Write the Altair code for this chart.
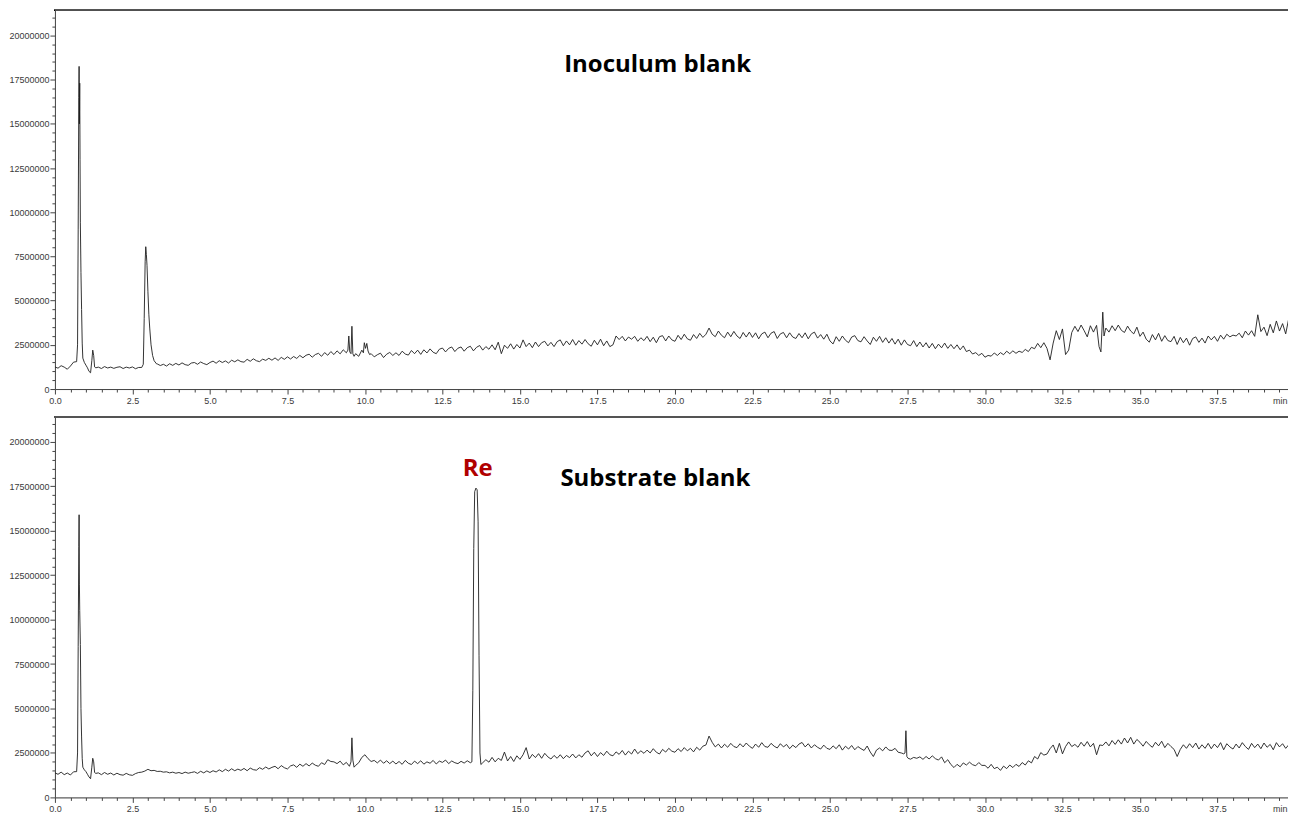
import altair as alt
import pandas as pd

# ---------------- data (signal in millions of counts, time in minutes) ----------------
# Inoculum blank: baseline sampled every 0.1 min, 0.0 .. 40.0
inoc_base_rows = [
    [1.25, 1.18, 1.32, 1.24, 1.12, 1.30, 1.52, 1.58, 1.50, 1.50],
    [1.30, 1.00, 1.20, 1.25, 1.24, 1.16, 1.27, 1.19, 1.24, 1.17],
    [1.23, 1.26, 1.16, 1.24, 1.19, 1.25, 1.15, 1.22, 1.20, 1.40],
    [5.00, 2.50, 1.60, 1.42, 1.33, 1.40, 1.30, 1.43, 1.34, 1.45],
    [1.36, 1.48, 1.38, 1.34, 1.47, 1.50, 1.40, 1.53, 1.44, 1.38],
    [1.50, 1.58, 1.46, 1.60, 1.50, 1.59, 1.47, 1.63, 1.54, 1.65],
    [1.55, 1.52, 1.68, 1.57, 1.71, 1.60, 1.55, 1.69, 1.62, 1.74],
    [1.63, 1.76, 1.62, 1.79, 1.68, 1.82, 1.70, 1.84, 1.73, 1.90],
    [1.77, 1.91, 1.97, 1.80, 1.95, 2.02, 1.85, 2.06, 1.91, 2.12],
    [1.95, 2.16, 1.99, 2.22, 2.05, 2.50, 3.00, 2.00, 1.85, 2.25],
    [2.60, 2.55, 2.00, 1.82, 1.94, 2.03, 1.78, 1.97, 2.07, 1.90],
    [2.05, 1.90, 2.14, 1.98, 1.92, 2.18, 2.00, 2.20, 1.96, 2.22],
    [2.04, 2.27, 2.08, 2.00, 2.25, 2.32, 2.10, 2.30, 2.38, 2.12],
    [2.31, 2.38, 2.14, 2.34, 2.42, 2.16, 2.36, 2.46, 2.20, 2.40],
    [2.25, 2.50, 2.22, 2.65, 2.00, 2.48, 2.30, 2.56, 2.26, 2.52],
    [2.32, 2.78, 2.40, 2.60, 2.34, 2.66, 2.40, 2.62, 2.70, 2.44],
    [2.64, 2.40, 2.68, 2.78, 2.45, 2.72, 2.50, 2.80, 2.48, 2.74],
    [2.54, 2.80, 2.56, 2.42, 2.76, 2.50, 2.82, 2.45, 2.72, 2.40],
    [2.50, 3.00, 2.80, 2.98, 2.72, 2.94, 2.82, 2.98, 2.70, 2.90],
    [2.74, 2.98, 2.68, 2.93, 2.62, 2.96, 3.02, 2.72, 3.00, 2.78],
    [2.70, 3.04, 2.80, 3.10, 2.84, 2.76, 3.08, 2.86, 3.15, 2.92],
    [3.10, 3.45, 3.10, 2.96, 3.28, 3.04, 2.90, 3.22, 2.96, 3.26],
    [3.00, 2.86, 3.20, 2.94, 3.22, 2.92, 3.18, 2.84, 3.12, 3.22],
    [2.90, 3.16, 3.25, 2.86, 3.12, 3.20, 2.90, 3.18, 2.94, 2.86],
    [3.14, 2.90, 3.18, 2.84, 3.12, 3.22, 2.88, 3.08, 2.82, 3.10],
    [2.72, 2.55, 2.96, 2.70, 3.00, 2.76, 2.62, 2.94, 3.02, 2.74],
    [2.67, 2.96, 2.72, 2.52, 2.93, 2.70, 2.98, 2.64, 2.90, 2.60],
    [2.86, 2.54, 2.82, 2.48, 2.78, 2.52, 2.45, 2.74, 2.40, 2.66],
    [2.38, 2.62, 2.32, 2.58, 2.28, 2.54, 2.33, 2.60, 2.30, 2.52],
    [2.28, 2.50, 2.22, 2.44, 2.12, 2.20, 1.98, 2.06, 1.90, 2.02],
    [1.80, 1.90, 1.86, 2.04, 1.90, 2.06, 1.94, 2.14, 2.00, 2.16],
    [2.02, 2.14, 2.07, 2.24, 2.12, 2.36, 2.28, 2.58, 2.34, 2.62],
    [2.30, 1.65, 2.60, 3.30, 2.80, 3.40, 1.95, 2.20, 3.20, 3.55],
    [3.25, 3.62, 3.30, 2.95, 3.58, 3.22, 3.60, 2.40, 4.35, 3.45],
    [3.22, 3.58, 3.30, 3.62, 3.32, 3.20, 3.56, 3.28, 3.12, 3.50],
    [2.98, 3.22, 2.82, 2.65, 3.08, 2.78, 3.15, 2.70, 3.02, 2.74],
    [2.68, 2.98, 2.52, 2.92, 2.62, 2.88, 2.48, 2.86, 2.95, 2.64],
    [2.88, 2.60, 3.00, 2.78, 2.98, 2.70, 3.05, 2.82, 3.10, 2.95],
    [3.05, 3.00, 3.16, 2.90, 3.28, 3.05, 3.30, 2.98, 4.20, 3.25],
    [3.50, 3.02, 3.66, 3.18, 3.85, 3.28, 3.70, 3.12, 4.00, 3.40],
    [3.45],
]
# Inoculum blank: finely sampled peaks (time, signal)
inoc_peaks = [
    [(0.70, 1.55), (0.73, 2.50), (0.75, 9.00), (0.77, 16.50), (0.78, 18.25), (0.79, 15.00),
     (0.80, 17.30), (0.81, 13.00), (0.82, 9.40), (0.84, 6.60), (0.86, 4.50), (0.88, 2.60),
     (0.90, 1.75), (0.95, 1.50), (1.00, 1.35)],
    [(1.05, 1.20), (1.10, 1.00), (1.15, 0.92), (1.19, 1.60), (1.22, 2.20), (1.25, 1.90),
     (1.28, 1.25), (1.32, 1.20)],
    [(2.80, 1.22), (2.85, 1.40), (2.88, 4.00), (2.91, 7.20), (2.93, 8.05), (2.95, 7.60),
     (2.97, 7.00), (3.00, 5.50), (3.03, 4.20), (3.06, 3.40), (3.10, 2.50), (3.15, 1.90),
     (3.20, 1.60), (3.28, 1.42)],
    [(9.40, 2.05), (9.45, 2.20), (9.48, 3.00), (9.51, 2.10), (9.55, 2.00), (9.58, 3.55),
     (9.61, 2.00), (9.65, 1.85)],
    [(9.90, 2.20), (9.95, 2.05), (9.98, 2.62), (10.02, 2.30), (10.06, 2.58), (10.10, 2.15),
     (10.15, 1.95)],
    [(33.68, 2.40), (33.74, 2.10), (33.80, 4.35), (33.84, 3.00), (33.88, 3.30)],
]

# Substrate blank: baseline sampled every 0.1 min, 0.0 .. 40.0
subs_base_rows = [
    [1.38, 1.30, 1.42, 1.28, 1.37, 1.26, 1.44, 1.50, 1.50, 1.50],
    [1.45, 1.15, 2.20, 1.35, 1.38, 1.28, 1.40, 1.30, 1.37, 1.26],
    [1.36, 1.28, 1.25, 1.35, 1.27, 1.24, 1.34, 1.40, 1.42, 1.48],
    [1.58, 1.50, 1.52, 1.46, 1.47, 1.42, 1.44, 1.38, 1.42, 1.36],
    [1.40, 1.34, 1.42, 1.36, 1.40, 1.44, 1.35, 1.47, 1.38, 1.49],
    [1.40, 1.50, 1.43, 1.55, 1.45, 1.58, 1.48, 1.61, 1.50, 1.59],
    [1.52, 1.63, 1.50, 1.65, 1.56, 1.53, 1.67, 1.58, 1.71, 1.60],
    [1.69, 1.75, 1.61, 1.79, 1.67, 1.60, 1.77, 1.83, 1.69, 1.87],
    [1.75, 1.90, 1.77, 1.93, 1.81, 1.75, 1.95, 1.85, 2.12, 2.02],
    [2.00, 1.90, 2.04, 1.83, 1.97, 1.75, 3.00, 1.80, 1.95, 2.25],
    [2.40, 2.18, 2.02, 2.08, 1.94, 2.10, 1.92, 2.06, 1.90, 2.04],
    [1.88, 2.02, 1.86, 2.08, 1.92, 1.85, 2.04, 1.90, 2.06, 1.87],
    [2.00, 1.92, 2.08, 1.88, 2.04, 1.97, 2.10, 1.90, 2.05, 1.95],
    [1.90, 2.03, 1.93, 2.06, 1.95, 10.0, 17.0, 2.50, 1.95, 2.12],
    [1.98, 2.25, 2.00, 2.20, 2.08, 2.55, 2.05, 2.30, 2.02, 2.34],
    [2.14, 2.40, 2.80, 2.16, 2.42, 2.24, 2.46, 2.20, 2.48, 2.28],
    [2.16, 2.36, 2.20, 2.40, 2.18, 2.36, 2.24, 2.44, 2.22, 2.40],
    [2.26, 2.50, 2.62, 2.34, 2.54, 2.30, 2.52, 2.36, 2.60, 2.40],
    [2.34, 2.56, 2.42, 2.64, 2.38, 2.60, 2.44, 2.72, 2.46, 2.62],
    [2.48, 2.66, 2.50, 2.74, 2.54, 2.44, 2.70, 2.55, 2.76, 2.60],
    [2.54, 2.74, 2.58, 2.80, 2.62, 2.76, 2.56, 2.82, 2.66, 2.88],
    [2.95, 3.45, 3.10, 2.84, 3.00, 2.78, 2.99, 2.82, 3.04, 2.86],
    [2.80, 3.02, 2.84, 3.06, 2.88, 2.76, 3.00, 2.82, 3.08, 2.86],
    [2.82, 3.04, 2.88, 2.78, 3.02, 2.84, 2.98, 2.74, 2.94, 2.80],
    [3.00, 3.09, 2.84, 3.02, 2.78, 2.96, 2.82, 2.72, 2.94, 2.76],
    [2.70, 2.90, 2.74, 2.96, 2.66, 2.88, 2.72, 2.92, 2.68, 2.86],
    [2.74, 2.64, 2.89, 2.55, 2.30, 2.66, 2.78, 2.62, 2.84, 2.66],
    [2.64, 2.76, 2.54, 2.50, 2.50, 2.30, 2.15, 2.25, 2.20, 2.28],
    [2.14, 2.30, 2.16, 2.34, 2.18, 2.10, 2.28, 1.95, 2.12, 1.85],
    [1.68, 1.86, 1.72, 1.94, 1.82, 1.98, 1.84, 1.78, 1.96, 1.80],
    [1.80, 1.64, 1.86, 1.62, 1.70, 1.52, 1.76, 1.62, 1.82, 1.68],
    [1.86, 1.74, 1.96, 1.82, 2.06, 1.94, 2.30, 2.16, 2.52, 2.38],
    [2.44, 2.74, 2.95, 2.50, 3.04, 2.45, 2.86, 3.12, 2.86, 2.98],
    [2.82, 3.10, 2.88, 3.14, 2.84, 3.04, 2.40, 2.95, 2.92, 3.12],
    [2.90, 3.20, 2.98, 3.24, 3.00, 3.34, 3.06, 3.38, 3.00, 3.26],
    [3.10, 2.88, 3.15, 2.96, 2.82, 3.10, 2.90, 3.16, 2.80, 3.04],
    [2.86, 2.70, 2.30, 2.70, 2.96, 2.76, 3.02, 2.80, 3.06, 2.72],
    [2.96, 2.76, 3.04, 2.74, 3.00, 2.80, 3.08, 2.68, 3.02, 2.84],
    [2.72, 3.00, 2.78, 3.08, 2.86, 2.70, 3.04, 2.80, 3.00, 2.74],
    [3.06, 2.82, 2.98, 2.68, 3.08, 2.84, 3.02, 2.76, 2.96, 2.82],
    [2.90],
]
subs_peaks = [
    [(0.70, 1.45), (0.73, 2.50), (0.75, 8.50), (0.77, 14.10), (0.78, 15.90), (0.79, 12.00),
     (0.80, 10.50), (0.82, 8.60), (0.84, 5.00), (0.86, 3.40), (0.88, 2.20), (0.90, 1.70),
     (0.95, 1.55), (1.00, 1.45)],
    [(1.05, 1.30), (1.10, 1.15), (1.15, 1.05), (1.19, 1.70), (1.22, 2.20), (1.25, 2.00),
     (1.28, 1.40), (1.32, 1.35)],
    [(9.50, 1.75), (9.55, 2.00), (9.58, 3.35), (9.61, 2.10), (9.65, 1.70)],
    [(13.40, 1.95), (13.45, 2.00), (13.48, 6.00), (13.51, 14.00), (13.54, 17.20), (13.58, 17.40),
     (13.62, 17.30), (13.65, 15.50), (13.68, 8.00), (13.71, 2.50), (13.74, 1.85), (13.80, 1.95)],
    [(27.38, 2.45), (27.42, 2.50), (27.45, 3.75), (27.48, 2.30), (27.52, 2.20)],
]

# annotations
inoc_ann_text = ["Inoculum blank"]
inoc_ann_time = [19.44]
inoc_ann_value = [17.95]
inoc_ann_color = ["#000000"]
subs_ann_text = ["Re", "Substrate blank"]
subs_ann_time = [13.64, 19.37]
subs_ann_value = [18.10, 17.52]
subs_ann_color = ["#b00000", "#000000"]

# axis ticks
x_major = [i * 2.5 for i in range(17)]
x_minor = [i * 0.5 for i in range(81) if i % 5 != 0]
y_major = [i * 2500000 for i in range(9)]
y_minor = [i * 500000 for i in range(43) if i % 5 != 0]


def build(rows, peaks):
    base = [v for r in rows for v in r]
    assert len(base) == 401, len(base)
    pts = [(round(i * 0.1, 2), v) for i, v in enumerate(base)]
    for seg in peaks:
        lo, hi = seg[0][0], seg[-1][0]
        pts = [p for p in pts if not (lo - 1e-9 <= p[0] <= hi + 1e-9)]
        pts += seg
    pts.sort()
    return pd.DataFrame({"t": [p[0] for p in pts], "v": [p[1] * 1e6 for p in pts]})


inoc_df = build(inoc_base_rows, inoc_peaks)
subs_df = build(subs_base_rows, subs_peaks)

W = 1242
AXC = "#444444"
LBL = "#3a3a3a"


def panel(df, ymax, h, texts, times, values, colors):
    xs = alt.Scale(domain=[0, 40], nice=False, zero=False)
    ys = alt.Scale(domain=[0, ymax], nice=False, zero=True)
    common = dict(grid=False, domainColor=AXC, tickColor=AXC, labelColor=LBL,
                  labelFont="Liberation Sans", labelFontSize=9, domainWidth=1, tickWidth=1)
    major = alt.Chart(df).mark_line(color="#1e1e1e", strokeWidth=0.9, clip=True).encode(
        x=alt.X("t:Q", scale=xs, title=None,
                axis=alt.Axis(values=x_major, orient="bottom", tickSize=5, labelPadding=2,
                              labelExpr="datum.value == 40 ? 'min' : format(datum.value, '.1f')",
                              labelAlign={"condition": {"test": "datum.value >= 40", "value": "right"},
                                          "value": "center"},
                              labelOffset={"condition": {"test": "datum.value >= 40", "value": -8},
                                           "value": 0},
                              labelFlush=False, labelOverlap=False, **common)),
        y=alt.Y("v:Q", scale=ys, title=None,
                axis=alt.Axis(values=y_major, orient="left", format="d", tickSize=5,
                              labelPadding=1, labelOverlap=False, **common)),
    )
    minor = alt.Chart(df).mark_line(opacity=0).encode(
        x=alt.X("t:Q", scale=xs, title=None,
                axis=alt.Axis(values=x_minor, orient="bottom", tickSize=3, labels=False,
                              domain=False, grid=False, tickColor=AXC)),
        y=alt.Y("v:Q", scale=ys, title=None,
                axis=alt.Axis(values=y_minor, orient="left", tickSize=3, labels=False,
                              domain=False, grid=False, tickColor=AXC)),
    )
    top_rule = alt.Chart(df).mark_rule(color="#555555", strokeWidth=1).encode(
        x=alt.value(0), x2=alt.value(W), y=alt.value(0))
    ann = pd.DataFrame({"label": texts, "t": times, "v": [v * 1e6 for v in values], "c": colors})
    text = alt.Chart(ann).mark_text(font="Open Sans", fontWeight="bold", fontSize=24,
                                    align="center", baseline="alphabetic").encode(
        x=alt.X("t:Q", scale=xs, axis=None),
        y=alt.Y("v:Q", scale=ys, axis=None),
        text="label:N",
        color=alt.Color("c:N", scale=None),
    )
    return alt.layer(minor, major, top_rule, text).resolve_axis(
        x="independent", y="independent").properties(width=W, height=h)


top = panel(inoc_df, 21.46e6, 380, inoc_ann_text, inoc_ann_time, inoc_ann_value, inoc_ann_color)
bottom = panel(subs_df, 21.40e6, 381, subs_ann_text, subs_ann_time, subs_ann_value, subs_ann_color)

chart = alt.vconcat(top, bottom, spacing=10).properties(
    padding={"left": 0, "top": 0, "right": -8, "bottom": 0}
).configure_view(strokeWidth=0).configure(background="white")

chart.save("out.html", embed_options={"renderer": "svg", "actions": False})
